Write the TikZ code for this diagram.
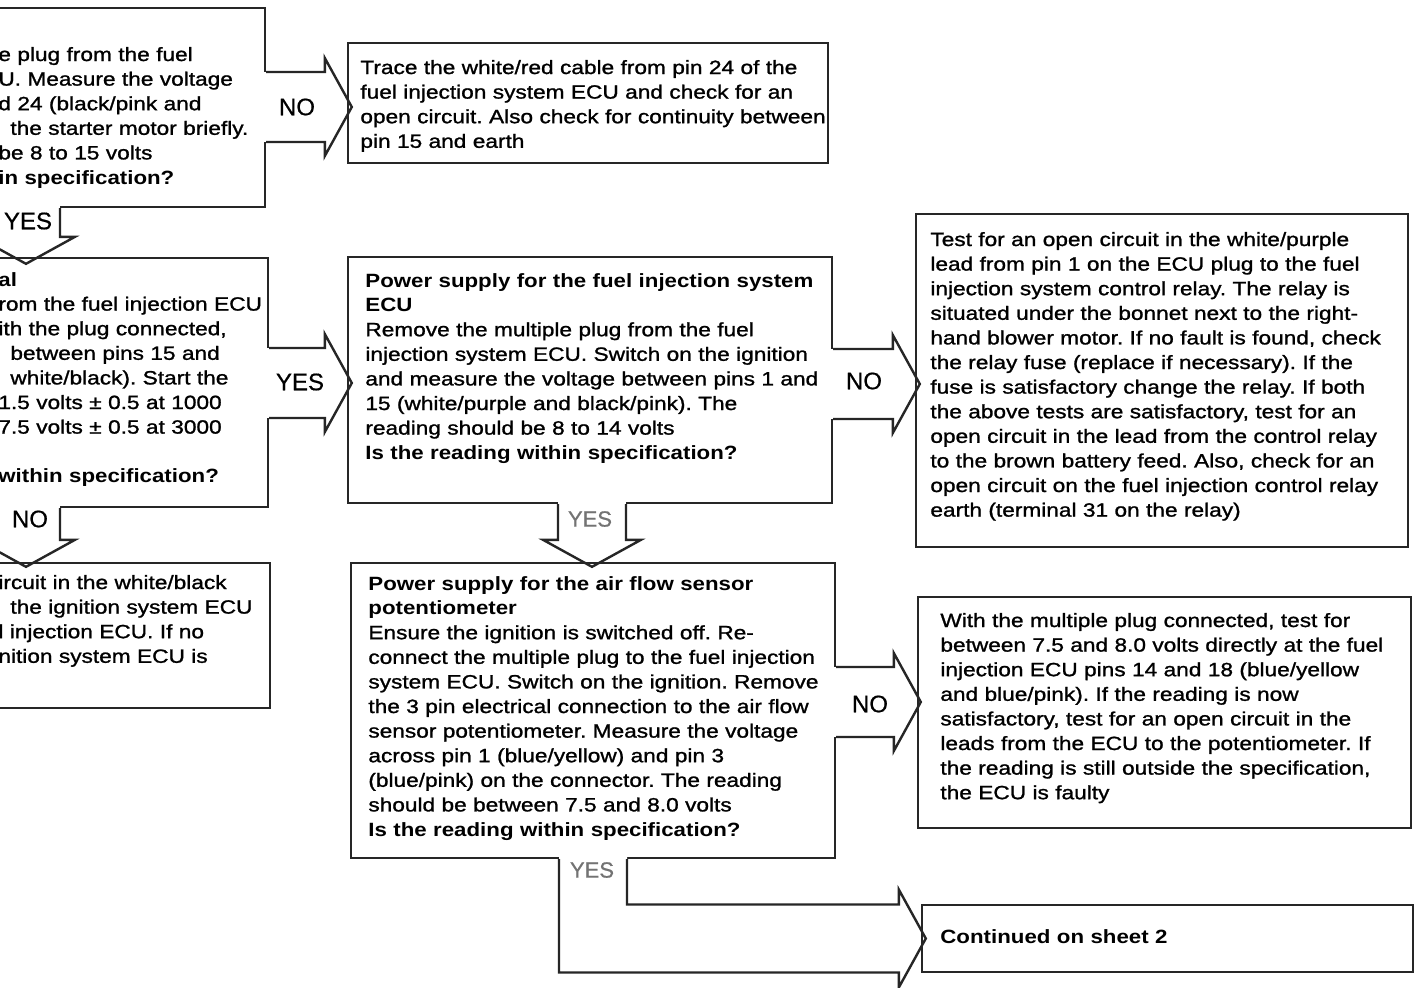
\documentclass[tikz,border=0pt]{standalone}
\usepackage{fontspec}
\setmainfont{Liberation Sans}[UprightFeatures={FakeStretch=1.18, FakeBold=1.2}, BoldFeatures={FakeStretch=1.16}]
\newfontfamily\lblfont{Liberation Sans}[FakeBold=0.6]
\usetikzlibrary{calc,fit}
\frenchspacing
\tikzset{
  box/.style={draw=black!85, line width=1.2pt, inner sep=0pt},
  arrline/.style={draw=black!85, line width=1.2pt, line join=miter},
  txt/.style={anchor=base west, inner sep=0pt, text width=330pt, align=left,
              font=\fontsize{9.6}{12.3}\selectfont\frenchspacing, text=black},
  lbl/.style={inner sep=0pt, font=\lblfont\fontsize{12}{14}\selectfont, text=black},
  lblgray/.style={inner sep=0pt, font=\lblfont\fontsize{11}{13}\selectfont, text=black!55}
}
\newcommand\myHarrow[2]{%
  \fill[white] let \p1=(#1), \p2=(#2) in (\x1-1pt,\y1+17.5pt) rectangle (\x2-13.5pt,\y1-17.5pt);
  \draw[arrline] let \p1=(#1), \p2=(#2) in (\x1,\y1+17.5pt) -- (\x2-13.5pt,\y1+17.5pt) -- (\x2-13.5pt,\y1+24.5pt) -- (\x2,\y1) -- (\x2-13.5pt,\y1-24.5pt) -- (\x2-13.5pt,\y1-17.5pt) -- (\x1,\y1-17.5pt);
}
\newcommand\myVarrow[2]{%
  \fill[white] let \p1=(#1), \p2=(#2) in (\x1-17pt,\y1+1pt) rectangle (\x1+17pt,\y2+13.5pt);
  \draw[arrline] let \p1=(#1), \p2=(#2) in (\x1-17pt,\y1) -- (\x1-17pt,\y2+13.5pt) -- (\x1-24.5pt,\y2+13.5pt) -- (\x1,\y2) -- (\x1+24.5pt,\y2+13.5pt) -- (\x1+17pt,\y2+13.5pt) -- (\x1+17pt,\y1);
}
\newcommand\myLarrow[2]{%
  \fill[white] let \p1=(#1), \p2=(#2) in (\x1-17pt,\y1+1pt) -- (\x1-17pt,\y2-17pt) -- (\x2-13.5pt,\y2-17pt) -- (\x2-13.5pt,\y2+17pt) -- (\x1+17pt,\y2+17pt) -- (\x1+17pt,\y1+1pt) -- cycle;
  \draw[arrline] let \p1=(#1), \p2=(#2) in (\x1-17pt,\y1) -- (\x1-17pt,\y2-17pt) -- (\x2-13.5pt,\y2-17pt) -- (\x2-13.5pt,\y2-24.5pt) -- (\x2,\y2) -- (\x2-13.5pt,\y2+24.5pt) -- (\x2-13.5pt,\y2+17pt) -- (\x1+17pt,\y2+17pt) -- (\x1+17pt,\y1);
}
\begin{document}
\begin{tikzpicture}[x=0.5pt,y=-0.5pt]
\useasboundingbox (0,0) rectangle (1415,987);
\clip (0,0) rectangle (1415,987);
\fill[white] (0,0) rectangle (1415,987);

% boxes
\node[box, fit={(-30,8) (265,207)}] (A) {};
\node[box, fit={(-30,258) (268,507)}] (B) {};
\node[box, fit={(-30,563) (270,708)}] (C) {};
\node[box, fit={(348,43) (828,163)}] (D) {};
\node[box, fit={(348,257) (832,503)}] (E) {};
\node[box, fit={(351,563) (835,858)}] (F) {};
\node[box, fit={(916,214) (1408,547)}] (G) {};
\node[box, fit={(918,597) (1411,828)}] (H) {};
\node[box, fit={(922,905) (1413,972)}] (K) {};

% connector anchor points
\coordinate (sAD) at (A.east |- 0,107);
\coordinate (tAD) at ($(D.west |- sAD)+(5,0)$);
\coordinate (sBE) at (B.east |- 0,383);
\coordinate (tBE) at ($(E.west |- sBE)+(5,0)$);
\coordinate (sEG) at (E.east |- 0,384);
\coordinate (tEG) at ($(G.west |- sEG)+(5,0)$);
\coordinate (sFH) at (F.east |- 0,702);
\coordinate (tFH) at ($(H.west |- sFH)+(4,0)$);
\coordinate (sAB) at (A.south -| 26,0);
\coordinate (tAB) at ($(B.north -| sAB)+(0,7)$);
\coordinate (sBC) at (B.south -| 26,0);
\coordinate (tBC) at ($(C.north -| sBC)+(0,5)$);
\coordinate (sEF) at (E.south -| 592,0);
\coordinate (tEF) at ($(F.north -| sEF)+(0,5)$);
\coordinate (sFK) at (F.south -| 593,0);
\coordinate (tFK) at ($(K.west)+(5,0)$);

% block arrows
\myHarrow{sAD}{tAD}
\myHarrow{sBE}{tBE}
\myHarrow{sEG}{tEG}
\myHarrow{sFH}{tFH}
\myVarrow{sAB}{tAB}
\myVarrow{sBC}{tBC}
\myVarrow{sEF}{tEF}
\myLarrow{sFK}{tFK}

% arrow labels
\node[lbl] (lAD) at (297,107) {NO};
\node[lbl] (lAB) at (28,221) {YES};
\node[lbl] (lBE) at (300,382) {YES};
\node[lbl] (lBC) at (30,519) {NO};
\node[lbl] (lEG) at (864,381) {NO};
\node[lblgray] (lEF) at (590,519) {YES};
\node[lbl] (lFH) at (870,704) {NO};
\node[lblgray] (lFK) at (592,870) {YES};

% texts
\node[txt] (tA) at (-2,61) {e plug from the fuel\\
U. Measure the voltage\\
d 24 (black/pink and\\
\hspace*{6pt}the starter motor briefly.\\
be 8 to 15 volts\\
\textbf{in specification?}};

\node[txt] (tB) at (-2,286) {\textbf{al}\\
rom the fuel injection ECU\\
ith the plug connected,\\
\hspace*{6pt}between pins 15 and\\
\hspace*{6pt}white/black). Start the\\
1.5 volts ± 0.5 at 1000\\
7.5 volts ± 0.5 at 3000\\
\mbox{}\\
\textbf{within specification?}};

\node[txt] (tC) at (-2,589) {ircuit in the white/black\\
\hspace*{6pt}the ignition system ECU\\
l injection ECU. If no\\
nition system ECU is};

\node[txt] (tD) at (360,74) {Trace the white/red cable from pin 24 of the\\
fuel injection system ECU and check for an\\
open circuit. Also check for continuity between\\
pin 15 and earth};

\node[txt] (tE) at (365,287) {\textbf{Power supply for the fuel injection system}\\
\textbf{ECU}\\
Remove the multiple plug from the fuel\\
injection system ECU. Switch on the ignition\\
and measure the voltage between pins 1 and\\
15 (white/purple and black/pink). The\\
reading should be 8 to 14 volts\\
\textbf{Is the reading within specification?}};

\node[txt] (tF) at (368,590) {\textbf{Power supply for the air flow sensor}\\
\textbf{potentiometer}\\
Ensure the ignition is switched off. Re-\\
connect the multiple plug to the fuel injection\\
system ECU. Switch on the ignition. Remove\\
the 3 pin electrical connection to the air flow\\
sensor potentiometer. Measure the voltage\\
across pin 1 (blue/yellow) and pin 3\\
(blue/pink) on the connector. The reading\\
should be between 7.5 and 8.0 volts\\
\textbf{Is the reading within specification?}};

\node[txt] (tG) at (930,246) {Test for an open circuit in the white/purple\\
lead from pin 1 on the ECU plug to the fuel\\
injection system control relay. The relay is\\
situated under the bonnet next to the right-\\
hand blower motor. If no fault is found, check\\
the relay fuse (replace if necessary). If the\\
fuse is satisfactory change the relay. If both\\
the above tests are satisfactory, test for an\\
open circuit in the lead from the control relay\\
to the brown battery feed. Also, check for an\\
open circuit on the fuel injection control relay\\
earth (terminal 31 on the relay)};

\node[txt] (tH) at (940,627) {With the multiple plug connected, test for\\
between 7.5 and 8.0 volts directly at the fuel\\
injection ECU pins 14 and 18 (blue/yellow\\
and blue/pink). If the reading is now\\
satisfactory, test for an open circuit in the\\
leads from the ECU to the potentiometer. If\\
the reading is still outside the specification,\\
the ECU is faulty};

\node[txt] (tK) at (940,943) {\textbf{Continued on sheet 2}};
\end{tikzpicture}
\end{document}
